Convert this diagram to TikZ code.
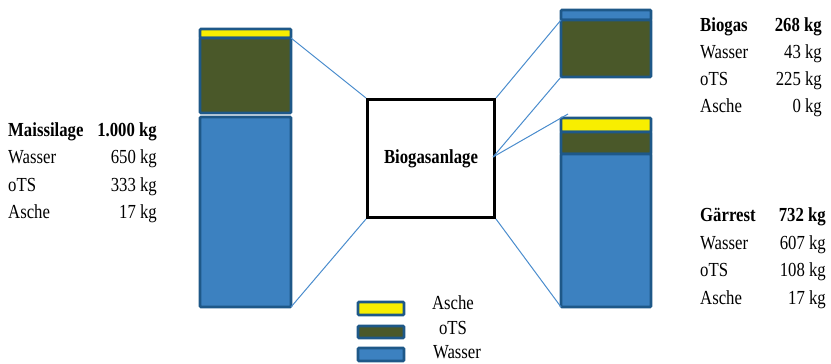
\documentclass[tikz,border=0pt]{standalone}
\usepackage{fontspec}
\setmainfont[FakeStretch=0.84]{Liberation Serif}
\definecolor{ash}{RGB}{248,238,0}
\definecolor{ots}{RGB}{74,88,41}
\definecolor{water}{RGB}{60,129,192}
\definecolor{edge}{RGB}{30,88,136}
\definecolor{link}{RGB}{74,140,205}
\begin{document}
\begin{tikzpicture}[x=1bp,y=-1bp,
  seg/.style={draw=edge,line width=2.6bp,rounded corners=1bp,inner sep=0pt,outer sep=0pt},
  lnk/.style={draw=link,line width=1bp},
  txt/.style={font=\fontsize{20}{24}\selectfont,inner sep=0pt},
  btxt/.style={font=\fontsize{20}{24}\selectfont\bfseries,inner sep=0pt}]
\useasboundingbox (0,0) rectangle (831,363);
% left bar (Maissilage)
\node[seg,fill=ash,minimum width=91bp,minimum height=9bp,anchor=north west] (lash) at (200,29) {};
\node[seg,fill=ots,minimum width=91bp,minimum height=75bp,anchor=north west] (lots) at (200,38) {};
\node[seg,fill=water,minimum width=91bp,minimum height=190bp,anchor=north west] (lwat) at (200,117) {};
% right top bar (Biogas)
\node[seg,fill=water,minimum width=90bp,minimum height=10bp,anchor=north west] (twat) at (561,10) {};
\node[seg,fill=ots,minimum width=90bp,minimum height=57bp,anchor=north west] (tots) at (561,20) {};
% right bottom bar (Gaerrest)
\node[seg,fill=ash,minimum width=90bp,minimum height=14bp,anchor=north west] (bash) at (561,118) {};
\node[seg,fill=ots,minimum width=90bp,minimum height=22bp,anchor=north west] (bots) at (561,132) {};
\node[seg,fill=water,minimum width=90bp,minimum height=153bp,anchor=north west] (bwat) at (561,154) {};
% plant
\node[draw=black,line width=3bp,minimum width=127bp,minimum height=118bp,inner sep=0pt,anchor=north west,btxt] (plant) at (366,98) {Biogasanlage};
% connectors
\coordinate (tip) at (568,114);
\coordinate (pmid) at (493,157);
\draw[lnk] (lots.north east) -- (plant.north west);
\draw[lnk] (lwat.south east) -- (plant.south west);
\draw[lnk] (plant.north east) -- (tots.north west);
\draw[lnk] (pmid) -- (tots.south west);
\draw[lnk] (pmid) -- (tip);
\draw[lnk] (plant.south east) -- (bwat.south west);
% left table
\node[btxt,anchor=base west] (ml) at (8,136) {Maissilage};
\node[btxt,anchor=base east] (mv) at (157,136) {1.000 kg};
\node[txt,anchor=base west] (mwl) at (8,163) {Wasser};
\node[txt,anchor=base east] (mwv) at (157,163) {650 kg};
\node[txt,anchor=base west] (mol) at (8,191) {oTS};
\node[txt,anchor=base east] (mov) at (157,191) {333 kg};
\node[txt,anchor=base west] (mal) at (8,218) {Asche};
\node[txt,anchor=base east] (mav) at (157,218) {17 kg};
% right top table
\node[btxt,anchor=base west] (gl) at (700,31) {Biogas};
\node[btxt,anchor=base east] (gv) at (822,31) {268 kg};
\node[txt,anchor=base west] (gwl) at (700,58) {Wasser};
\node[txt,anchor=base east] (gwv) at (822,58) {43 kg};
\node[txt,anchor=base west] (gol) at (700,85) {oTS};
\node[txt,anchor=base east] (gov) at (822,85) {225 kg};
\node[txt,anchor=base west] (gal) at (700,112) {Asche};
\node[txt,anchor=base east] (gav) at (822,112) {0 kg};
% right bottom table
\node[btxt,anchor=base west] (rl) at (700,221) {Gärrest};
\node[btxt,anchor=base east] (rv) at (826,221) {732 kg};
\node[txt,anchor=base west] (rwl) at (700,249) {Wasser};
\node[txt,anchor=base east] (rwv) at (826,249) {607 kg};
\node[txt,anchor=base west] (rol) at (700,276) {oTS};
\node[txt,anchor=base east] (rov) at (826,276) {108 kg};
\node[txt,anchor=base west] (ral) at (700,304) {Asche};
\node[txt,anchor=base east] (rav) at (826,304) {17 kg};
% legend
\node[seg,fill=ash,minimum width=46bp,minimum height=13bp,anchor=north west] (kash) at (358,302) {};
\node[seg,fill=ots,minimum width=46bp,minimum height=12bp,anchor=north west] (kots) at (358,326) {};
\node[seg,fill=water,minimum width=46bp,minimum height=13bp,anchor=north west] (kwat) at (358,348) {};
\node[txt,anchor=base] (kal) at (453,309) {Asche};
\node[txt,anchor=base] (kol) at (453,334) {oTS};
\node[txt,anchor=base] (kwl) at (457,358) {Wasser};
\end{tikzpicture}
\end{document}
